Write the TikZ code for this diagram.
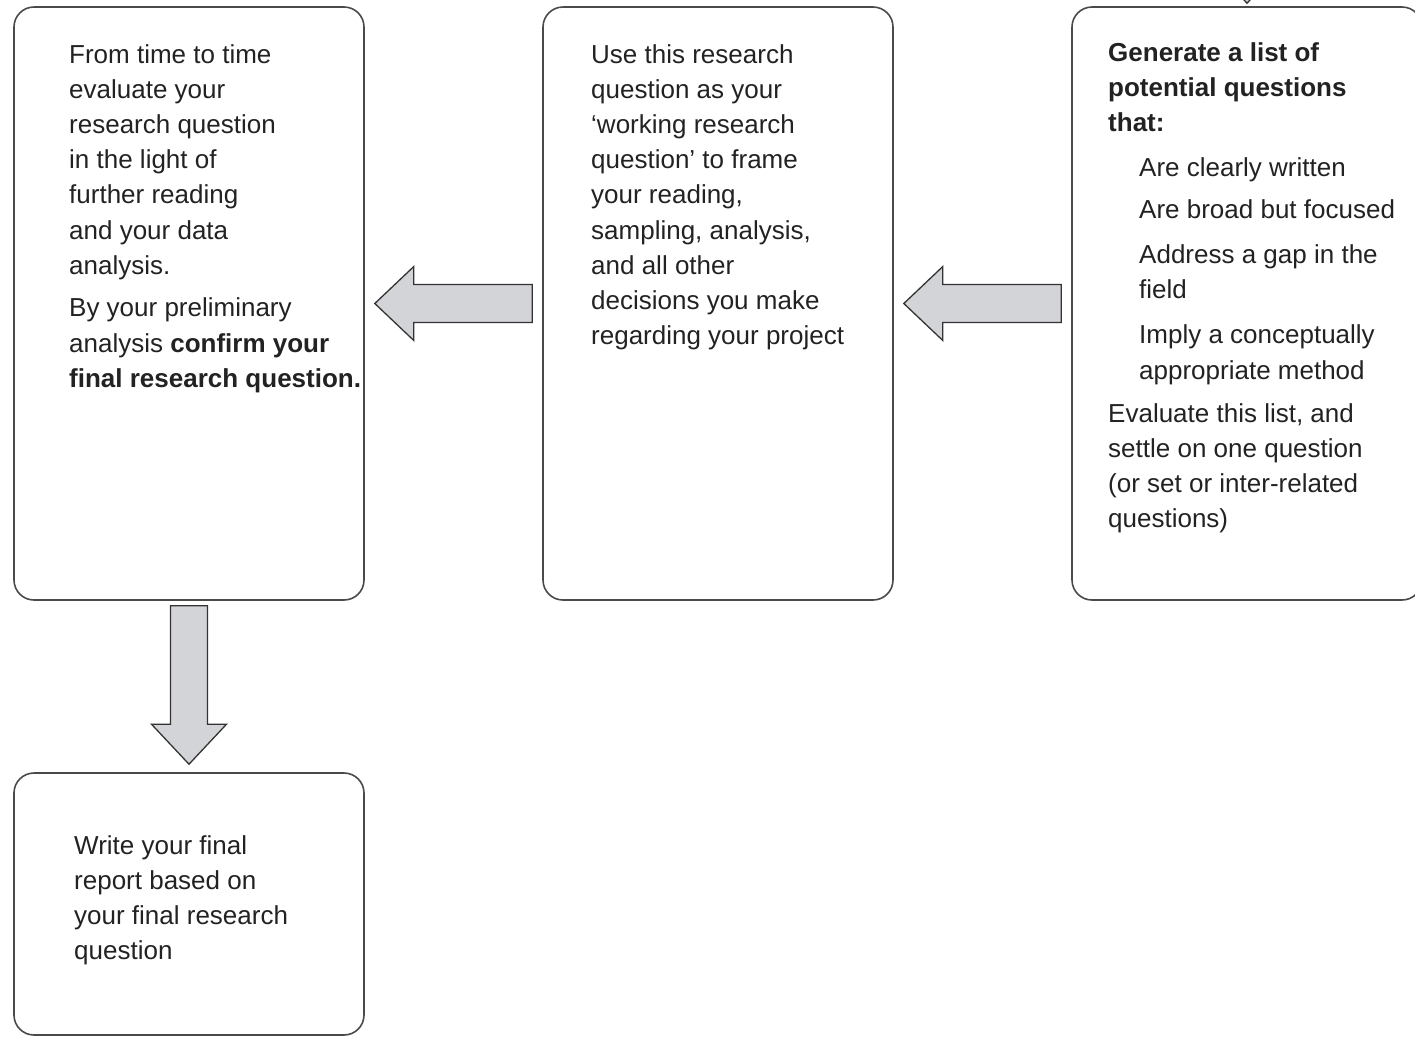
\documentclass[tikz,border=0pt]{standalone}
\usepackage{fontspec}
\setmainfont{Liberation Sans}
\usetikzlibrary{calc}
\definecolor{boxline}{HTML}{4A4A4A}
\definecolor{arrowline}{HTML}{333333}
\definecolor{arrowfill}{HTML}{D3D4D7}
\definecolor{txt}{HTML}{222222}
\tikzset{
  box/.style={draw=boxline, line width=1.6pt, rounded corners=20pt, minimum width=350pt, inner sep=0pt},
  blockarrow/.style={draw=arrowline, fill=arrowfill, line width=1.3pt, line join=miter},
  boxtext/.style={anchor=base west, inner sep=0pt, text=txt, font=\fontsize{26}{35.2}\selectfont}
}
\begin{document}
\begin{tikzpicture}[x=1pt,y=-1pt]
\useasboundingbox (0,0) rectangle (1415,1037);
% boxes
\node[box, minimum height=593pt] (box1) at (189,303.5) {};
\node[box, minimum height=593pt] (box2) at (718,303.5) {};
\node[box, minimum height=593pt] (box3) at (1247,303.5) {};
\node[box, minimum height=262pt] (box4) at (189,904) {};
% texts
\node[boxtext] (t1) at (69,63) {\parbox[t]{300pt}{\raggedright
From time to time\\
evaluate your\\
research question\\
in the light of\\
further reading\\
and your data\\
analysis.\par\vspace{7.5pt}
By your preliminary\\
analysis \textbf{confirm your}\\
\textbf{final research question.}}};
\node[boxtext] (t2) at (591,63) {\parbox[t]{300pt}{\raggedright
Use this research\\
question as your\\
‘working research\\
question’ to frame\\
your reading,\\
sampling, analysis,\\
and all other\\
decisions you make\\
regarding your project}};
\node[boxtext] (t3) at (1108,61) {\parbox[t]{320pt}{\raggedright
\textbf{Generate a list of}\\
\textbf{potential questions}\\
\textbf{that:}\par\vspace{9.5pt}
{\leftskip=31pt
Are clearly written\par\vspace{7pt}
Are broad but focused\par\vspace{10pt}
Address a gap in the\\
field\par\vspace{10pt}
Imply a conceptually\\
appropriate method\par}\vspace{8pt}
Evaluate this list, and\\
settle on one question\\
(or set or inter-related\\
questions)}};
\node[boxtext] (t4) at (74,854) {\parbox[t]{290pt}{\raggedright
Write your final\\
report based on\\
your final research\\
question}};
% arrow box2 -> box1
\coordinate (a1tip) at ($(box1.east)+(10,0)$);
\coordinate (a1tail) at ($(box2.west)+(-10,0)$);
\draw[blockarrow] (a1tip) -- ++(39,-37) -- ++(0,18) -- ($(a1tail)+(0,-19)$) -- ($(a1tail)+(0,19)$) -- ($(a1tip)+(39,19)$) -- ++(0,18) -- cycle;
% arrow box3 -> box2
\coordinate (a2tip) at ($(box2.east)+(10,0)$);
\coordinate (a2tail) at ($(box3.west)+(-10,0)$);
\draw[blockarrow] (a2tip) -- ++(39,-37) -- ++(0,18) -- ($(a2tail)+(0,-19)$) -- ($(a2tail)+(0,19)$) -- ($(a2tip)+(39,19)$) -- ++(0,18) -- cycle;
% arrow box1 -> box4
\coordinate (a3tip) at ($(box4.north)+(0,-8)$);
\coordinate (a3tail) at ($(box1.south)+(0,5)$);
\draw[blockarrow] (a3tip) -- ++(-37.5,-40) -- ++(19,0) -- ($(a3tail)+(-18.5,0)$) -- ($(a3tail)+(18.5,0)$) -- ($(a3tip)+(18.5,-40)$) -- ++(19,0) -- cycle;
% incoming arrow into box3 (cut off at top)
\coordinate (a4tip) at ($(box3.north)+(0,-3)$);
\coordinate (a4tail) at ($(a4tip)+(0,-160)$);
\begin{scope}
\clip (0,0) rectangle (1415,1037);
\draw[blockarrow] (a4tip) -- ++(-37.5,-40) -- ++(19,0) -- ($(a4tail)+(-18.5,0)$) -- ($(a4tail)+(18.5,0)$) -- ($(a4tip)+(18.5,-40)$) -- ++(19,0) -- cycle;
\end{scope}
\end{tikzpicture}
\end{document}
